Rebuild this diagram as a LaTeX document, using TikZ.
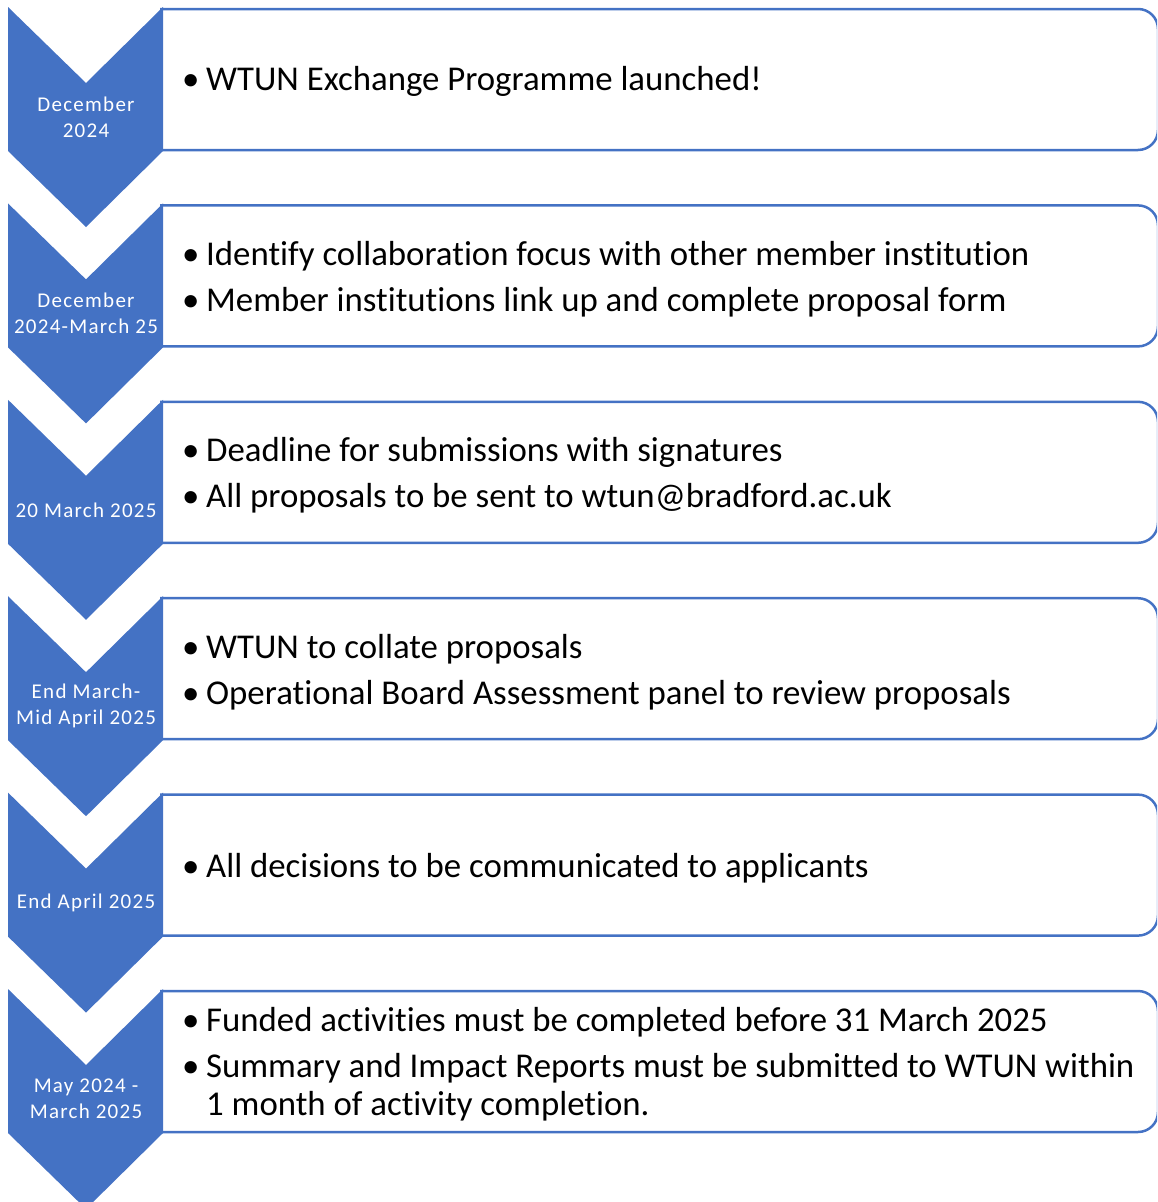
\documentclass[tikz,border=0pt]{standalone}
\usepackage{fontspec}
\setmainfont[Ligatures=NoCommon]{Carlito}
\definecolor{chevblue}{HTML}{4472C4}

\newcommand{\bul}{\makebox[24pt][l]{\textbullet}}

\begin{document}
\begin{tikzpicture}[x=1pt,y=-1pt,
  datetext/.style={text=white,align=center,inner sep=0pt,font=\fontsize{21}{26}\selectfont\addfontfeature{LetterSpace=6}},
  itemtext/.style={anchor=west,align=left,inner sep=0pt,font=\fontsize{34.8}{38}\selectfont},
  boxline/.style={draw=chevblue,line width=2.5pt,rounded corners=20pt}]

\useasboundingbox (0,0) rectangle (1157,1202);
\clip (0,0) rectangle (1157,1202);

\foreach \t in {7,203.4,399.8,596.2,792.6,989}{
  \draw[boxline] (160,\t+2) -- (1158,\t+2) -- (1158,\t+143) -- (160,\t+143);
  \fill[chevblue] (8,\t) -- (86,\t+76) -- (163,\t) -- (163,\t+144) -- (86,\t+220) -- (8,\t+144) -- cycle;
}

\node[datetext] (d1) at (86,117) {December\\2024};
\node[datetext] (d2) at (86,313.4) {December\\2024-March 25};
\node[datetext] (d3) at (86,509.8) {20 March 2025};
\node[datetext] (d4) at (86,706.2) {End March-\\Mid April 2025};
\node[datetext] (d5) at (86,902.6) {End April 2025};
\node[datetext] (d6) at (86,1099) {May 2024 -\\March 2025};

\node[itemtext] (e1) at (182,81.5) {\bul WTUN Exchange Programme launched!};
\node[itemtext] (e2) at (182,279) {\bul Identify collaboration focus with other member institution\\[8pt]
  \bul Member institutions link up and complete proposal form};
\node[itemtext] (e3) at (182,475.4) {\bul Deadline for submissions with signatures\\[8pt]
  \bul All proposals to be sent to wtun@bradford.ac.uk};
\node[itemtext] (e4) at (182,671.8) {\bul WTUN to collate proposals\\[8pt]
  \bul Operational Board Assessment panel to review proposals};
\node[itemtext] (e5) at (182,868.2) {\bul All decisions to be communicated to applicants};
\node[itemtext] (e6) at (182,1064.6) {\bul Funded activities must be completed before 31 March 2025\\[8pt]
  \bul Summary and Impact Reports must be submitted to WTUN within\\
  \hspace*{24pt}1 month of activity completion.};

\end{tikzpicture}
\end{document}
